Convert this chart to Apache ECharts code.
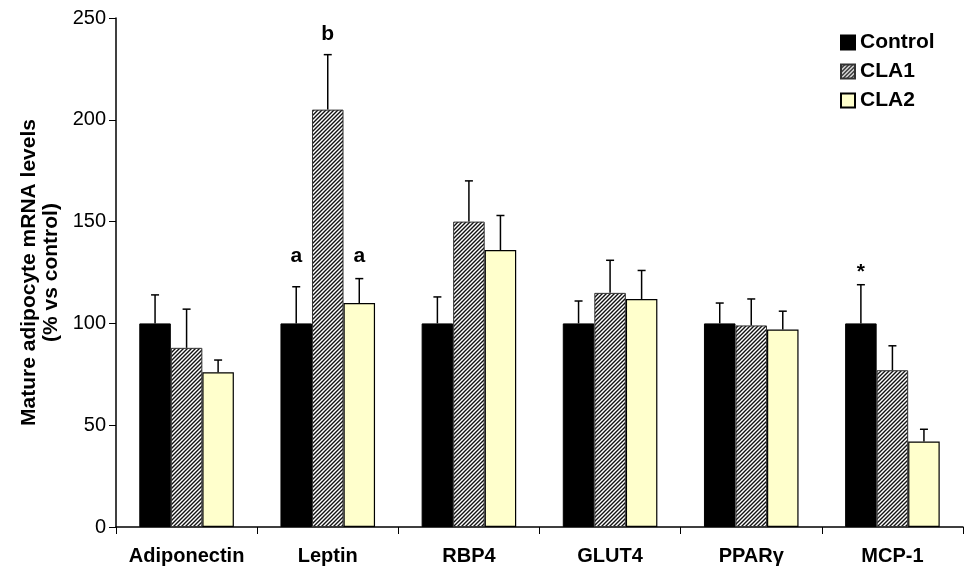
<!DOCTYPE html>
<html>
<head>
<meta charset="utf-8">
<script src="https://cdn.jsdelivr.net/npm/echarts@6/dist/echarts.min.js"></script>
<style>
  html, body { margin: 0; padding: 0; background: #fff; }
  #chart { width: 965px; height: 575px; }
</style>
</head>
<body>
<div id="chart"></div>
<script>
// categories (genes)
const genes = ['Adiponectin', 'Leptin', 'RBP4', 'GLUT4', 'PPARγ', 'MCP-1'];

// mean mRNA levels, % vs control
const controlMean = [100, 100, 100, 100, 100, 100];
const cla1Mean = [88, 205, 150, 115, 99, 77];
const cla2Mean = [76, 110, 136, 112, 97, 42];

// error bar lengths (upper only)
const controlErr = [14, 18, 13, 11, 10, 19];
const cla1Err = [19, 27, 20, 16, 13, 12];
const cla2Err = [6, 12, 17, 14, 9, 6];

// significance marks and the level they sit at
const controlSig = ['', 'a', '', '', '', '*'];
const cla1Sig = ['', 'b', '', '', '', ''];
const cla2Sig = ['', 'a', '', '', '', ''];
const sigLevel = [0, 133, 0, 0, 0, 125];
const sigLevelCla1 = [0, 242, 0, 0, 0, 0];

const yTicks = [0, 50, 100, 150, 200, 250];

const FONT = 'Liberation Sans, Arial, sans-serif';
const GAP = 0.33;

// diagonal hatch for CLA1
function hatch() {
  const s = 4;
  const c = document.createElement('canvas');
  c.width = s; c.height = s;
  const ctx = c.getContext('2d');
  ctx.fillStyle = '#fff';
  ctx.fillRect(0, 0, s, s);
  ctx.strokeStyle = '#111';
  ctx.lineWidth = 1.4;
  ctx.beginPath();
  ctx.moveTo(-1, s + 1); ctx.lineTo(s + 1, -1);
  ctx.moveTo(-1, 1); ctx.lineTo(1, -1);
  ctx.moveTo(s - 1, s + 1); ctx.lineTo(s + 1, s - 1);
  ctx.stroke();
  return c;
}

// error bars + letters for one group (idx 0..2 in the cluster)
function errSeries(idx, means, errs, sigs, levels) {
  return {
    type: 'custom',
    z: 5,
    silent: true,
    data: means.map((m, i) => [i, m, errs[i], sigs[i], levels[i]]),
    renderItem: function (params, api) {
      const i = api.value(0);
      const band = api.size([1, 0])[0];
      const barW = band * (1 - GAP) / 3;
      const base = api.coord([i, api.value(1)]);
      const x = base[0] - band * (1 - GAP) / 2 + barW * (idx + 0.5);
      const top = api.coord([i, api.value(1) + api.value(2)])[1];
      const cap = 4;
      const kids = [
        { type: 'line', shape: { x1: x, y1: base[1], x2: x, y2: top }, style: { stroke: '#000', lineWidth: 1.5 } },
        { type: 'line', shape: { x1: x - cap, y1: top, x2: x + cap, y2: top }, style: { stroke: '#000', lineWidth: 1.5 } }
      ];
      const sig = api.value(3);
      if (sig) {
        const ly = api.coord([i, api.value(4)])[1];
        kids.push({
          type: 'text',
          style: {
            x: x, y: ly, text: sig, fill: '#000',
            font: 'bold 21px ' + FONT, textAlign: 'center', textVerticalAlign: 'middle'
          }
        });
      }
      return { type: 'group', children: kids };
    }
  };
}

const chart = echarts.init(document.getElementById('chart'));

const option = {
  animation: false,
  backgroundColor: '#fff',
  grid: { left: 116, right: 2, top: 18, bottom: 48 },
  legend: {
    orient: 'vertical',
    left: 835,
    top: 27,
    icon: 'rect',
    itemWidth: 14,
    itemHeight: 14,
    itemGap: 8,
    textStyle: { fontFamily: FONT, fontWeight: 'bold', fontSize: 21, color: '#000' },
    data: ['Control', 'CLA1', 'CLA2']
  },
  xAxis: {
    type: 'category',
    data: genes,
    axisLine: { lineStyle: { color: '#000', width: 1.5 } },
    axisTick: { show: true, interval: 0, length: 7, lineStyle: { color: '#000' } },
    axisLabel: {
      interval: 0, hideOverlap: false,
      fontFamily: FONT, fontWeight: 'bold', fontSize: 20, color: '#000', margin: 19
    }
  },
  yAxis: {
    type: 'value',
    min: yTicks[0],
    max: yTicks[yTicks.length - 1],
    interval: 50,
    name: 'Mature adipocyte mRNA levels\n(% vs control)',
    nameLocation: 'middle',
    nameGap: 52,
    nameTextStyle: { fontFamily: FONT, fontWeight: 'bold', fontSize: 21, color: '#000', lineHeight: 22 },
    axisLine: { show: true, lineStyle: { color: '#000', width: 1.5 } },
    axisTick: { show: true, length: 7, lineStyle: { color: '#000' } },
    axisLabel: { fontFamily: FONT, fontSize: 20, color: '#000', margin: 10 },
    splitLine: { show: false }
  },
  series: [
    {
      name: 'Control', type: 'bar', data: controlMean,
      barGap: '0%', barCategoryGap: (GAP * 100) + '%',
      itemStyle: { color: '#000', borderColor: '#000', borderWidth: 1 }
    },
    {
      name: 'CLA1', type: 'bar', data: cla1Mean,
      itemStyle: { color: { image: hatch(), repeat: 'repeat' }, borderColor: '#333', borderWidth: 1 }
    },
    {
      name: 'CLA2', type: 'bar', data: cla2Mean,
      itemStyle: { color: '#ffffcc', borderColor: '#000', borderWidth: 1.2 }
    },
    errSeries(0, controlMean, controlErr, controlSig, sigLevel),
    errSeries(1, cla1Mean, cla1Err, cla1Sig, sigLevelCla1),
    errSeries(2, cla2Mean, cla2Err, cla2Sig, sigLevel)
  ]
};

chart.setOption(option);
</script>
</body>
</html>
